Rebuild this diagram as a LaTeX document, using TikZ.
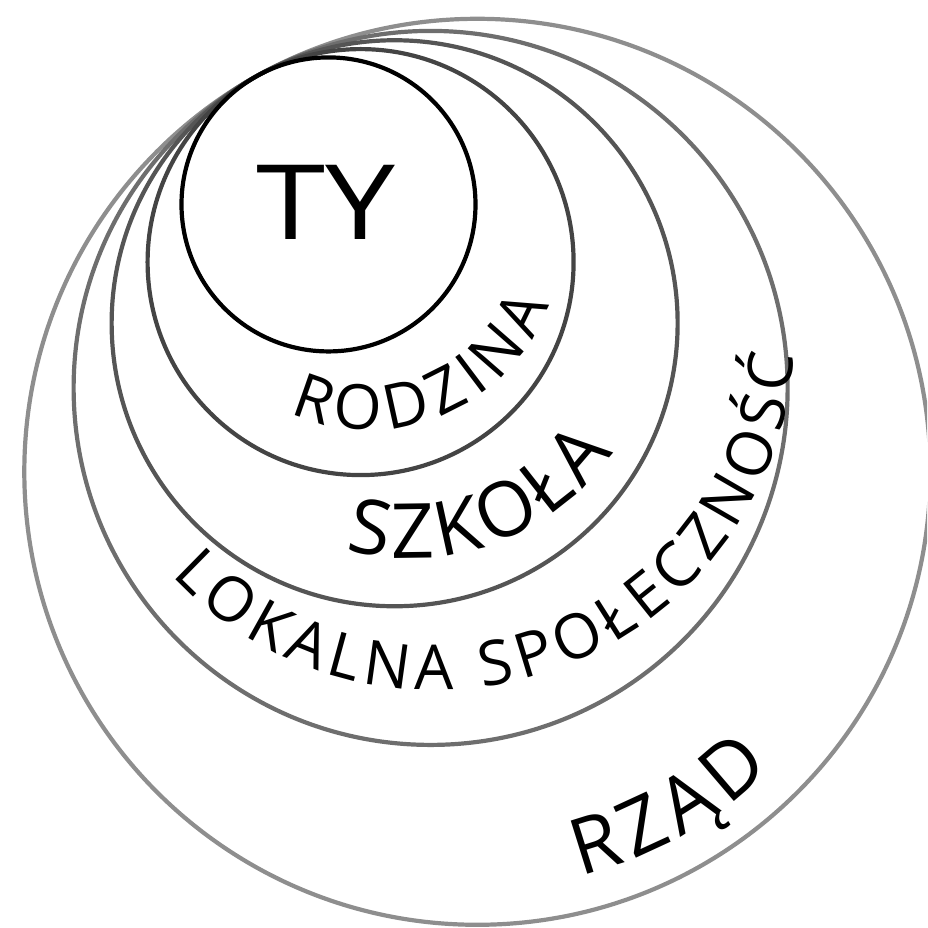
\documentclass[tikz,border=0pt]{standalone}
\usepackage{fontspec}
\newfontfamily\hand{Open Sans}
\usetikzlibrary{decorations.text,calc}
\definecolor{ringA}{HTML}{000000}
\definecolor{ringB}{HTML}{444444}
\definecolor{ringC}{HTML}{555555}
\definecolor{ringD}{HTML}{6E6E6E}
\definecolor{ringE}{HTML}{8E8E8E}
\begin{document}
\begin{tikzpicture}[x=1pt,y=1pt,
  ring/.style={line width=4.2pt},
  curvetext/.style={decorate,decoration={text along path,text align={fit to path}}}]
\useasboundingbox (0,0) rectangle (927,928);
\clip (0,0) rectangle (927,928);
\coordinate (T) at (257,852);
\foreach \rad/\col/\nm in {453/ringE/e,357/ringD/d,283/ringC/c,213/ringB/b,147/ringA/a} {
  \coordinate (c\nm) at ($(T)+(-60.9:\rad)$);
  \draw[ring,\col] (c\nm) circle[radius=\rad];
}
\node[font=\hand\fontsize{104}{110}\selectfont, xscale=1.2, inner sep=0pt] (ty) at (326,726) {TY};
\path[curvetext, decoration={text={|\hand\fontsize{62}{66}\selectfont|RODZINA}}]
  (370,688) ++(-115:190) arc[start angle=-115,end angle=-20,radius=190];
\path[curvetext, decoration={text={|\hand\fontsize{76}{80}\selectfont|SZKOŁA}}]
  (410,618) ++(-105:248) arc[start angle=-105,end angle=-35,radius=248];
\path[curvetext, decoration={text={|\hand\fontsize{62}{66}\selectfont|LOKALNA SPOŁECZNOŚĆ}}]
  (435,598) ++(-137:360) arc[start angle=-137,end angle=-4,radius=360];
\path[curvetext, decoration={text={|\hand\fontsize{78}{84}\selectfont|RZĄD}}]
  (480,455) ++(-76:415) arc[start angle=-76,end angle=-45.5,radius=415];
\end{tikzpicture}
\end{document}
